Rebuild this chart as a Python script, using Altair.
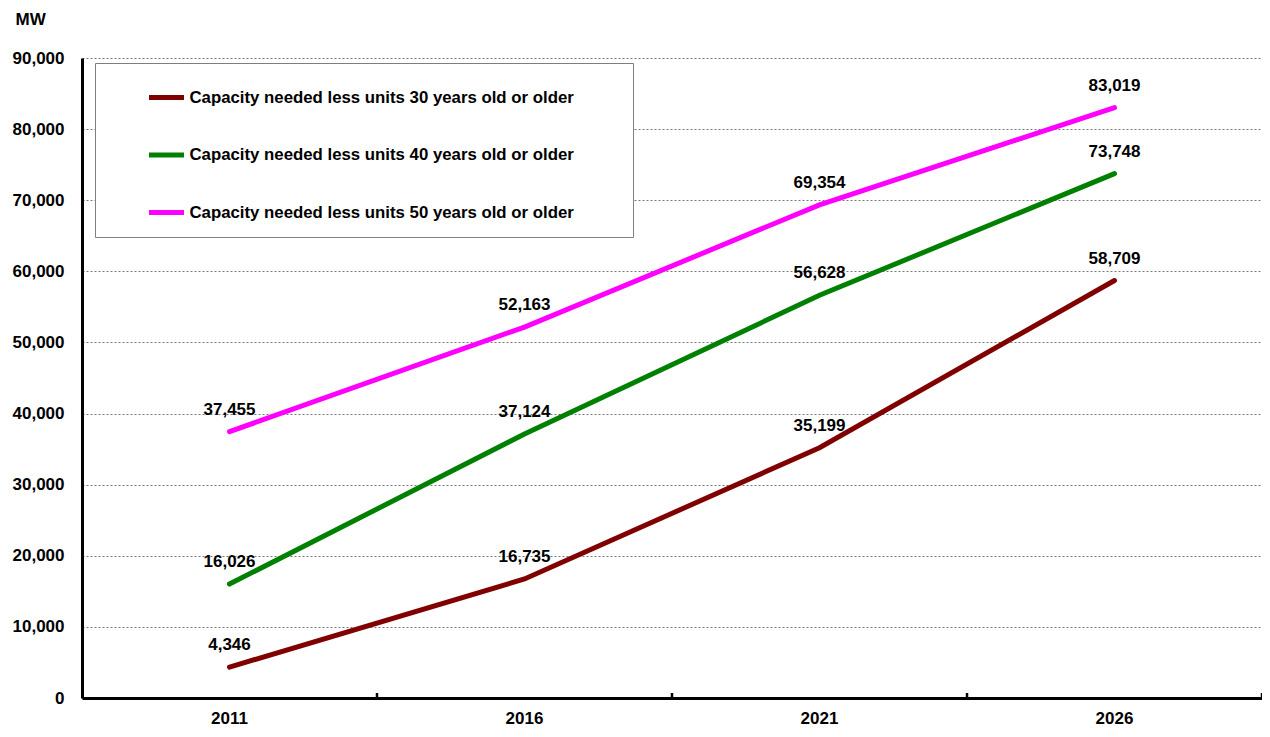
import altair as alt
import pandas as pd

years = ["2011", "2016", "2021", "2026"]
series_names = [
    "Capacity needed less units 30 years old or older",
    "Capacity needed less units 40 years old or older",
    "Capacity needed less units 50 years old or older",
]
values_30 = [4346, 16735, 35199, 58709]
values_40 = [16026, 37124, 56628, 73748]
values_50 = [37455, 52163, 69354, 83019]
colors = ["#800000", "#008000", "#FF00FF"]
y_ticks = list(range(0, 90001, 10000))

rows = []
for name, vals in zip(series_names, [values_30, values_40, values_50]):
    for y, v in zip(years, vals):
        rows.append({"year": y, "series": name, "value": v})
df = pd.DataFrame(rows)
years_df = pd.DataFrame({"year": years})

FONT = "Liberation Sans"
W, H = 1180, 640

x_enc = alt.X(
    "year:N",
    sort=years,
    scale=alt.Scale(type="band", paddingInner=0, paddingOuter=0),
    axis=alt.Axis(
        title=None,
        labelAngle=0,
        labelFont=FONT,
        labelFontSize=17,
        labelFontWeight="bold",
        labelColor="black",
        labelPadding=12,
        ticks=False,
        grid=False,
        domainColor="black",
        domainWidth=3,
    ),
)

y_enc = alt.Y(
    "value:Q",
    scale=alt.Scale(domain=[0, 90000], nice=False, zero=True),
    axis=alt.Axis(
        title="MW",
        titleAngle=0,
        titleX=-67,
        titleY=-47,
        titleAlign="left",
        titleBaseline="top",
        titleFont=FONT,
        titleFontSize=17,
        titleFontWeight="bold",
        titleColor="black",
        values=y_ticks,
        format=",d",
        labelFont=FONT,
        labelFontSize=17,
        labelFontWeight="bold",
        labelColor="black",
        labelPadding=18,
        ticks=False,
        domainColor="black",
        domainWidth=3,
        grid=True,
        gridColor="#777777",
        gridDash=[2, 2],
        gridWidth=1,
    ),
)

color_enc = alt.Color(
    "series:N",
    scale=alt.Scale(domain=series_names, range=colors),
    legend=alt.Legend(
        title="\u00a0",
        titleOrient="right",
        titlePadding=45,
        titleFontSize=16,
        orient="none",
        legendX=13,
        legendY=5,
        symbolType="stroke",
        symbolSize=1225,
        symbolStrokeWidth=5,
        symbolOffset=37,
        labelOffset=3,
        labelFont=FONT,
        labelFontSize=16.8,
        labelFontWeight="bold",
        labelColor="black",
        labelLimit=800,
        rowPadding=27.5,
        padding=14.5,
        strokeColor="#808080",
        fillColor="white",
        cornerRadius=0,
    ),
)

lines = alt.Chart(df).mark_line(strokeWidth=5, strokeCap="round").encode(
    x=x_enc, y=y_enc, color=color_enc
)

labels = alt.Chart(df).mark_text(
    dy=-22, font=FONT, fontSize=17, fontWeight="bold", color="black", align="center"
).encode(
    x=alt.X("year:N", sort=years),
    y="value:Q",
    text=alt.Text("value:Q", format=","),
)

ticks = alt.Chart(years_df).mark_rule(color="black", strokeWidth=2.5).encode(
    x=alt.X("year:N", sort=years, bandPosition=1),
    y=alt.value(H - 5),
    y2=alt.value(H),
)

chart = alt.layer(lines, labels, ticks).properties(
    width=W,
    height=H,
    autosize=alt.AutoSizeParams(type="none"),
    padding={"left": 74, "top": 50, "right": 0, "bottom": 31},
).configure_view(stroke=None)

chart.save("out.html", embed_options={"renderer": "svg", "actions": False})
